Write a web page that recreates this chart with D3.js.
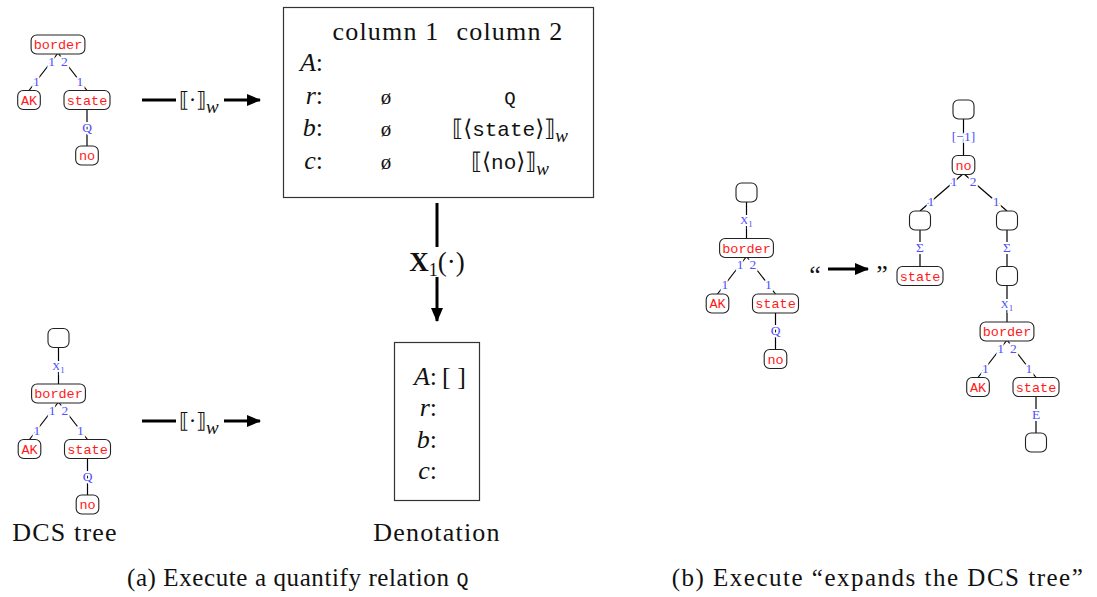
<!DOCTYPE html>
<html>
<head>
<meta charset="utf-8">
<script src="https://cdn.jsdelivr.net/npm/d3@7"></script>
<style>
  body { margin: 0; background: #fff; }
  .serif { font-family: "Liberation Serif", "DejaVu Serif", serif; fill: #111; }
  .mono { font-family: "Liberation Mono", "DejaVu Sans Mono", monospace; }
</style>
</head>
<body>
<svg id="fig" width="1097" height="597"></svg>
<script>
// ---- DCS trees (label "" is an empty node; edge = [join index at parent, index at child] or a single relation)
var treeBorder = { label: "border", children: [
    { label: "AK", edge: ["1", "1"] },
    { label: "state", edge: ["2", "1"], children: [ { label: "no", edge: "Q" } ] }
]};

var treeMarked = { label: "", children: [
    { label: "border", edge: "X1", children: treeBorder.children }
]};

var treeExpanded = { label: "", children: [
    { label: "no", edge: "[\u22121]", children: [
        { label: "", edge: ["1", "1"], children: [ { label: "state", edge: "\u03A3" } ] },
        { label: "", edge: ["2", "1"], children: [
            { label: "", edge: "\u03A3", children: [
                { label: "border", edge: "X1", children: [
                    { label: "AK", edge: ["1", "1"] },
                    { label: "state", edge: ["2", "1"], children: [ { label: "", edge: "E" } ] }
                ]}
            ]}
        ]}
    ]}
]};

// ---- denotation table
var rowNames = ["A", "r", "b", "c"];
var column1 = ["", "\u00F8", "\u00F8", "\u00F8"];
var column2 = ["", "Q", "state", "no"];
var column2Wrapped = [false, false, true, true];   // shown as [[<x>]]_w
var headers = ["column 1", "column 2"];

var svg = d3.select("#fig");
var blue = "#4f4fff", red = "#ff1a1a";
var charW = 7.8, nodeH = 19;

svg.append("defs").append("marker")
    .attr("id", "head")
    .attr("markerUnits", "userSpaceOnUse")
    .attr("viewBox", "0 -7 14 14")
    .attr("refX", 13).attr("refY", 0)
    .attr("markerWidth", 14).attr("markerHeight", 14)
    .attr("orient", "auto")
  .append("path")
    .attr("d", "M0,-6L14,0L0,6Z")
    .attr("fill", "#000");

function nodeWidth(d) { return d.data.label ? d.data.label.length * charW + 7 : 21; }

function edgeLabel(g, x, y, txt) {
    var t = g.append("text")
        .attr("x", x).attr("y", y).attr("dy", "0.35em")
        .attr("text-anchor", "middle")
        .attr("class", "serif")
        .style("fill", blue)
        .style("font-size", "13.5px")
        .attr("paint-order", "stroke")
        .attr("stroke", "#fff").attr("stroke-width", 4);
    if (txt === "X1") {
        t.append("tspan").text("X").style("font-size", "11px");
        t.append("tspan").text("1").style("font-size", "9px").attr("dy", 3);
    } else {
        t.text(txt);
    }
}

function drawTree(data, ox, oy) {
    var root = d3.hierarchy(data);
    d3.tree()
        .nodeSize([29, 55.5])
        .separation(function(a, b) { return (a.height + b.height) > 3 ? 3 : 2; })(root);

    var g = svg.append("g").attr("transform", "translate(" + ox + "," + oy + ")");
    var labels = [];

    root.links().forEach(function(l) {
        var p = l.source, c = l.target;
        var x1 = p.x, y1 = p.y + nodeH / 2 - 1, x2 = c.x, y2 = c.y - nodeH / 2;
        g.append("line")
            .attr("x1", x1).attr("y1", y1).attr("x2", x2).attr("y2", y2)
            .attr("stroke", "#000").attr("stroke-width", 1.2);
        var e = c.data.edge;
        if (Array.isArray(e)) {
            labels.push([x1 + (x2 - x1) * 0.22, y1 + (y2 - y1) * 0.22, e[0]]);
            labels.push([x1 + (x2 - x1) * 0.75, y1 + (y2 - y1) * 0.75, e[1]]);
        } else {
            labels.push([(x1 + x2) / 2, (y1 + y2) / 2, e]);
        }
    });

    var nodes = g.selectAll("g.node").data(root.descendants()).enter()
        .append("g").attr("class", "node")
        .attr("transform", function(d) { return "translate(" + d.x + "," + d.y + ")"; });
    nodes.append("rect")
        .attr("x", function(d) { return -nodeWidth(d) / 2; })
        .attr("y", -nodeH / 2)
        .attr("width", nodeWidth).attr("height", nodeH)
        .attr("rx", 5.5)
        .attr("fill", "#fff").attr("stroke", "#222").attr("stroke-width", 1.1);
    nodes.append("text")
        .attr("class", "mono")
        .attr("text-anchor", "middle").attr("dy", "0.35em")
        .style("font-size", "13.5px").style("fill", red)
        .text(function(d) { return d.data.label; });

    labels.forEach(function(l) { edgeLabel(g, l[0], l[1], l[2]); });
}

drawTree(treeBorder, 58, 44.5);
drawTree(treeMarked, 58.5, 338);
drawTree(treeExpanded, 963.5, 109.5);
drawTree(treeMarked, 746.5, 192.5);

// ---- text helpers
function serifText(x, y, size, anchor, spacing) {
    return svg.append("text").attr("class", "serif")
        .attr("x", x).attr("y", y)
        .style("font-size", size + "px")
        .style("letter-spacing", (spacing || 0) + "px")
        .attr("text-anchor", anchor || "middle");
}

function semArrowLabel(t) {
    t.append("tspan").text("\u27E6\u00B7\u27E7").style("font-family", "DejaVu Serif").style("font-size", "21px");
    t.append("tspan").text("w").style("font-style", "italic").style("font-size", "19px").attr("dy", 6);
}

function arrowLine(x1, y1, x2, y2, head) {
    var l = svg.append("line")
        .attr("x1", x1).attr("y1", y1).attr("x2", x2).attr("y2", y2)
        .attr("stroke", "#000").attr("stroke-width", 3);
    if (head) l.attr("marker-end", "url(#head)");
}

// horizontal execution arrows of panel (a)
[100, 421].forEach(function(y) {
    arrowLine(142, y, 176, y, false);
    semArrowLabel(serifText(199, y + 7, 22));
    arrowLine(224, y, 260, y, true);
});

// vertical X1 arrow
arrowLine(437, 203, 437, 247, false);
var xl = serifText(437, 271, 27);
xl.append("tspan").text("X").style("font-weight", "bold");
xl.append("tspan").text("1").style("font-size", "18px").attr("dy", 5);
xl.append("tspan").text("(\u00B7)").attr("dy", -5);
arrowLine(437, 277, 437, 321, true);

// ---- table box
svg.append("rect").attr("x", 283.5).attr("y", 7.5).attr("width", 310).attr("height", 190)
    .attr("fill", "none").attr("stroke", "#333").attr("stroke-width", 1.2);

var colX = [386, 510];
headers.forEach(function(h, i) { serifText(colX[i], 40, 26, "middle", 1.2).text(h); });

var rowY = d3.scalePoint().domain(rowNames).range([71, 169]);
rowNames.forEach(function(r, i) {
    var t = serifText(323, rowY(r), 26, "end");
    t.append("tspan").text(r).style("font-style", "italic");
    t.append("tspan").text(":");
    if (column1[i]) serifText(colX[0], rowY(r), 21).text(column1[i]);
    if (column2[i]) {
        if (!column2Wrapped[i]) {
            serifText(colX[1], rowY(r), 19).attr("class", "mono").style("fill", "#111").text(column2[i]);
        } else {
            var c = serifText(colX[1], rowY(r), 25);
            c.append("tspan").text("\u27E6\u27E8").style("font-family", "DejaVu Serif").style("font-size", "23px");
            c.append("tspan").text(column2[i]).attr("class", "mono").style("font-size", "21px");
            c.append("tspan").text("\u27E9\u27E7").style("font-family", "DejaVu Serif").style("font-size", "23px");
            c.append("tspan").text("w").style("font-style", "italic").style("font-size", "19px").attr("dy", 6);
        }
    }
});

// ---- denotation box
svg.append("rect").attr("x", 394.5).attr("y", 342.5).attr("width", 85).attr("height", 158)
    .attr("fill", "none").attr("stroke", "#333").attr("stroke-width", 1.2);
var denY = d3.scalePoint().domain(rowNames).range([385, 479]);
rowNames.forEach(function(r, i) {
    var t = serifText(437, denY(r), 26, "end");
    t.append("tspan").text(r).style("font-style", "italic");
    t.append("tspan").text(":");
    if (i === 0) serifText(442, denY(r), 26, "start").text("[ ]");
});

// ---- captions
serifText(65, 541, 26, "middle", 1.2).text("DCS tree");
serifText(437, 541, 26, "middle", 1.2).text("Denotation");
var capA = serifText(298, 586, 25, "middle", 0.6);
capA.append("tspan").text("(a) Execute a quantify relation ");
capA.append("tspan").text("Q").attr("class", "mono").style("font-size", "20px").style("fill", "#111");
serifText(878, 586, 25, "middle", 1.5).text("(b) Execute \u201Cexpands the DCS tree\u201D");

// ---- arrow of panel (b)
serifText(815, 283, 26).text("\u201C");
arrowLine(828, 269, 868, 269, true);
serifText(882, 283, 26).text("\u201D");
</script>
</body>
</html>
